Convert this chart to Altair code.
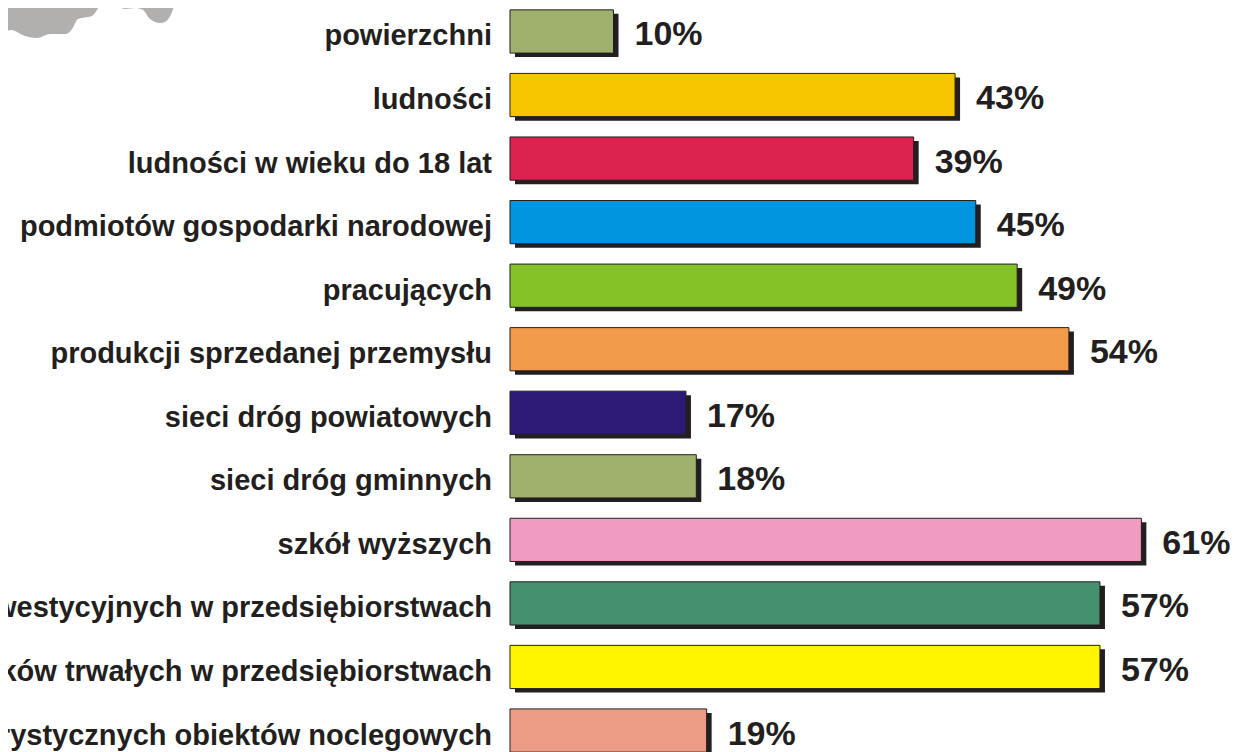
import altair as alt
import pandas as pd

categories = ["powierzchni", "ludności", "ludności w wieku do 18 lat",
              "podmiotów gospodarki narodowej", "pracujących",
              "produkcji sprzedanej przemysłu", "sieci dróg powiatowych",
              "sieci dróg gminnych", "szkół wyższych",
              "nakładów inwestycyjnych w przedsiębiorstwach",
              "środków trwałych w przedsiębiorstwach",
              "turystycznych obiektów noclegowych"]
values = [10, 43, 39, 45, 49, 54, 17, 18, 61, 57, 57, 19]
colors = ["#9fb16c", "#f6c700", "#dc234f", "#0095de", "#84c225", "#f29c4b",
          "#2c1a76", "#9fb16c", "#f09bc0", "#45916f", "#fff500", "#ec9b85"]

# fragment of the background map, top-left corner (outline)
map_x = [0, 11, 25, 37, 50, 66, 72, 78, 92, 97, 100, 115, 125, 135, 143, 150, 160, 165, 172, 176]
map_y = [35, 30, 36, 38, 34, 34, 29, 19, 16, 10, 6, 5, 9, 8, 10, 19, 23, 22, 12, 0]

df = pd.DataFrame({"cat": categories, "val": values, "col": colors, "zero": 0,
                   "lab": [f"{v}%" for v in values]})
map_df = pd.DataFrame({"mx": map_x, "my": map_y, "top": 0})

INK = "#231f20"
FONT = "Liberation Sans"
x_scale = alt.Scale(domain=[-48.5, 69.66], range=[0, 1223], nice=False, zero=False)
y_scale = alt.Scale(domain=categories, range=[-8.3, 754.3], paddingInner=0.32, paddingOuter=0.16)
X = alt.X("val:Q", scale=x_scale, axis=None)
X0 = alt.X("zero:Q", scale=x_scale, axis=None)
Y = alt.Y("cat:N", scale=y_scale, axis=None, sort=categories)
base = alt.Chart(df)

map_layer = alt.Chart(map_df).mark_area(color="#b1b0af", interpolate="monotone").encode(
    x=alt.X("mx:Q", scale=alt.Scale(domain=[8, 1231], range=[0, 1223], nice=False, zero=False), axis=None),
    y=alt.Y("my:Q", scale=alt.Scale(domain=[8, 752], range=[0, 744], nice=False, zero=False), axis=None),
    y2="top:Q")
shadow = base.mark_bar(color=INK, xOffset=5, yOffset=4, x2Offset=5, y2Offset=4).encode(
    x=X, x2="zero:Q", y=Y)
bars = base.mark_bar(stroke=INK, strokeWidth=1).encode(
    x=X, x2="zero:Q", y=Y,
    fill=alt.Fill("col:N", scale=None))
cat_text = base.mark_text(align="right", baseline="middle", dx=-18, dy=5, font=FONT,
                          fontWeight="bold", fontSize=29, color=INK).encode(
    x=X0, y=Y, text="cat:N")
val_text = base.mark_text(align="left", baseline="middle", dx=21, dy=4, font=FONT,
                          fontWeight="bold", fontSize=34, color=INK).encode(
    x=X, y=Y, text="lab:N")

chart = alt.layer(map_layer, alt.layer(shadow, bars, cat_text, val_text)).resolve_scale(
    x="independent", y="independent"
).properties(
    width=1223, height=744, padding=0,
    autosize=alt.AutoSizeParams(type="none", contains="content"),
    background="white",
).configure_view(stroke=None)

chart.save("out.html", embed_options={"renderer": "svg", "actions": False})
